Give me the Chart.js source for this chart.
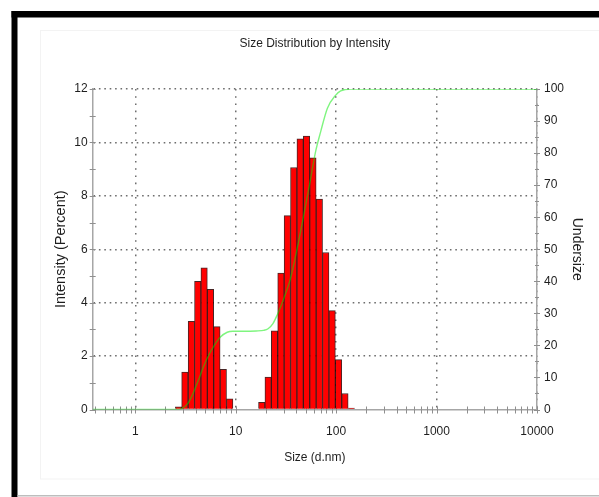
<!DOCTYPE html>
<html><head><meta charset="utf-8">
<script src="https://cdn.jsdelivr.net/npm/chart.js@4.4.1/dist/chart.umd.min.js"></script>
<style>html,body{margin:0;padding:0;background:#fff}#wrap{width:599px;height:497px;position:relative}</style>
</head><body><div id="wrap"><canvas id="c" width="599" height="497"></canvas></div>
<script>
// ---- data ----
const binSizes = [2.70, 3.12, 3.62, 4.19, 4.85, 5.61, 6.50, 7.53, 8.72,
                  18.17, 21.04, 24.36, 28.21, 32.67, 37.84, 43.82, 50.75, 58.77, 68.06, 78.82, 91.28, 105.7, 122.4, 141.8];
const intensity = [0.1, 1.4, 3.3, 4.8, 5.3, 4.5, 3.1, 1.5, 0.4,
                   0.27, 1.21, 2.95, 5.11, 7.26, 9.06, 10.13, 10.24, 9.42, 7.88, 5.88, 3.70, 1.87, 0.60, 0.05];
const undersizeSizes = [0.377, 2.6, 2.9, 3.36, 3.82, 4.3, 4.8, 5.4, 6.04, 7.05, 8.23, 9.4, 12, 16, 19, 21, 23.5, 25.9, 30, 35.2, 41.1, 47.5, 55, 62, 70.2, 81.9, 99.1, 111, 140, 10000];
const undersizeValues = [0, 0, 0.3, 2, 5.5, 9.5, 13.5, 17, 19.7, 22.6, 24.1, 24.4, 24.4, 24.5, 24.7, 25.2, 26.8, 29.5, 34.5, 41, 50.5, 60.5, 71, 80, 86.7, 94, 98.1, 99.4, 100, 100];
const xMajorTicks = [1, 10, 100, 1000, 10000];
const xTickLabels = ['1', '10', '100', '1000', '10000'];
const yTickLabels = ['0', '2', '4', '6', '8', '10', '12'];
const y2TickLabels = ['0', '10', '20', '30', '40', '50', '60', '70', '80', '90', '100'];

const HFONT = "'Liberation Sans', Arial, sans-serif";
const REG = "'Liberation Sans', Arial, sans-serif";
const TXT = '#1e1e1e';

const xTickValues = [];
for (let d = -1; d <= 3; d++) for (let m = 1; m <= 9; m++) { const v = +(m * Math.pow(10, d)).toPrecision(6); if (v >= 0.4) xTickValues.push(v); }
xTickValues.push(10000);
const isMajorX = v => xMajorTicks.some(m => Math.abs(m - v) < 1e-6 * m);

const frame = {
  id: 'frame',
  beforeDraw(chart) {
    const ctx = chart.ctx;
    ctx.save();
    ctx.fillStyle = '#fff'; ctx.fillRect(0, 0, chart.width, chart.height);
    ctx.strokeStyle = '#f3f3f3'; ctx.lineWidth = 1;
    ctx.strokeRect(40.5, 30.5, 600, 448.5);
    ctx.fillStyle = '#000';
    ctx.fillRect(11.5, 11, chart.width, 6.5);
    ctx.fillRect(11.5, 11, 6, chart.height);
    ctx.fillStyle = '#bdbdbd';
    ctx.fillRect(17.5, 495, chart.width, 1.5);
    ctx.restore();
  }
};

const tickMarks = {
  id: 'tickMarks',
  beforeDatasetsDraw(chart) {
    const {ctx, scales: {x, y, y2}} = chart;
    ctx.save(); ctx.strokeStyle = '#8f8f8f'; ctx.lineWidth = 1;
    ctx.beginPath();
    const yb = y.getPixelForValue(0);
    x.ticks.forEach(t => { const px = Math.round(x.getPixelForValue(t.value)) + 0.5; ctx.moveTo(px, yb - 3); ctx.lineTo(px, yb + 4); });
    for (let v = 0; v <= 12; v++) { const py = Math.round(y.getPixelForValue(v)) + 0.5; ctx.moveTo(x.left - 3, py); ctx.lineTo(x.left + 3, py); }
    for (let v = 0; v <= 100; v += 5) { const py = Math.round(y2.getPixelForValue(v)) + 0.5; const h = v % 10 === 0 ? 3 : 2; ctx.moveTo(x.right - h, py); ctx.lineTo(x.right + h, py); }
    ctx.stroke();
    ctx.restore();
  }
};

new Chart(document.getElementById('c'), {
  type: 'bar',
  data: {
    datasets: [
      {
        type: 'line',
        data: undersizeSizes.map((s, i) => ({x: s, y: undersizeValues[i]})),
        yAxisID: 'y2', xAxisID: 'x',
        borderColor: 'rgba(0,235,0,0.5)', borderWidth: 1.4,
        pointRadius: 0, cubicInterpolationMode: 'monotone', fill: false, order: 0
      },
      {
        type: 'bar',
        data: binSizes.map((s, i) => ({x: s, y: intensity[i]})),
        yAxisID: 'y', xAxisID: 'x',
        backgroundColor: '#ff0000', borderColor: 'rgba(40,0,0,0.85)', borderWidth: 1,
        barThickness: 6.41, order: 1
      }
    ]
  },
  options: {
    responsive: false, animation: false,
    layout: {padding: 0},
    plugins: {
      legend: {display: false}, tooltip: {enabled: false},
      title: {
        display: true, fullSize: false, text: 'Size Distribution by Intensity', color: TXT,
        font: {family: HFONT, size: 12, weight: 'normal', lineHeight: 1.2},
        padding: {top: 36.3, bottom: 38.3}
      }
    },
    scales: {
      x: {
        type: 'logarithmic', position: 'bottom', min: 0.377, max: 10000, offset: false,
        afterBuildTicks: s => { s.ticks = xTickValues.map(v => ({value: v, major: isMajorX(v)})); },
        afterFit: s => { s.height = 87.5; },
        ticks: {
          autoSkip: false, maxRotation: 0, minRotation: 0, padding: 15, color: TXT,
          font: {family: HFONT, size: 12},
          callback: v => { const i = xMajorTicks.findIndex(m => Math.abs(m - v) < 1e-6 * m); return i >= 0 ? xTickLabels[i] : ''; }
        },
        grid: {
          offset: false, drawTicks: false, lineWidth: 1.5,
          color: c => (c.tick && isMajorX(c.tick.value)) ? '#6e6e6e' : 'rgba(0,0,0,0)'
        },
        border: {display: true, color: '#a6a6a6', width: 1.5, dash: [1.6, 5.6]},
        title: {display: true, text: 'Size (d.nm)', color: TXT, font: {family: HFONT, size: 12, lineHeight: 1.2}, padding: {top: 0, bottom: 32.5}}
      },
      y: {
        type: 'linear', position: 'left', min: 0, max: 12,
        afterFit: s => { s.width = 92.7; },
        ticks: {stepSize: 1, padding: 5, color: TXT, font: {family: HFONT, size: 12},
          callback: v => (v % 2 === 0 ? yTickLabels[v / 2] : '')},
        grid: {drawTicks: false, lineWidth: 1.5,
          color: c => (c.tick && c.tick.value % 2 === 0 && c.tick.value > 0) ? '#6e6e6e' : 'rgba(0,0,0,0)'},
        border: {display: true, color: '#a6a6a6', width: 1.5, dash: [1.6, 3.8]},
        title: {display: true, text: 'Intensity (Percent)', color: TXT, font: {family: REG, size: 14.5, lineHeight: 1.2}, padding: {top: 52, bottom: 0}}
      },
      y2: {
        type: 'linear', position: 'right', min: 0, max: 100,
        afterFit: s => { s.width = 62; },
        ticks: {stepSize: 5, padding: 7, color: TXT, font: {family: HFONT, size: 12},
          callback: v => (v % 10 === 0 ? y2TickLabels[v / 10] : '')},
        grid: {display: false, drawTicks: false},
        border: {display: true, color: '#a6a6a6', width: 1.5},
        title: {display: true, text: 'Undersize', color: TXT, font: {family: REG, size: 14, lineHeight: 1.2}, padding: {top: 13.6, bottom: 0}}
      }
    }
  },
  plugins: [frame, tickMarks]
});
</script>
</body></html>
